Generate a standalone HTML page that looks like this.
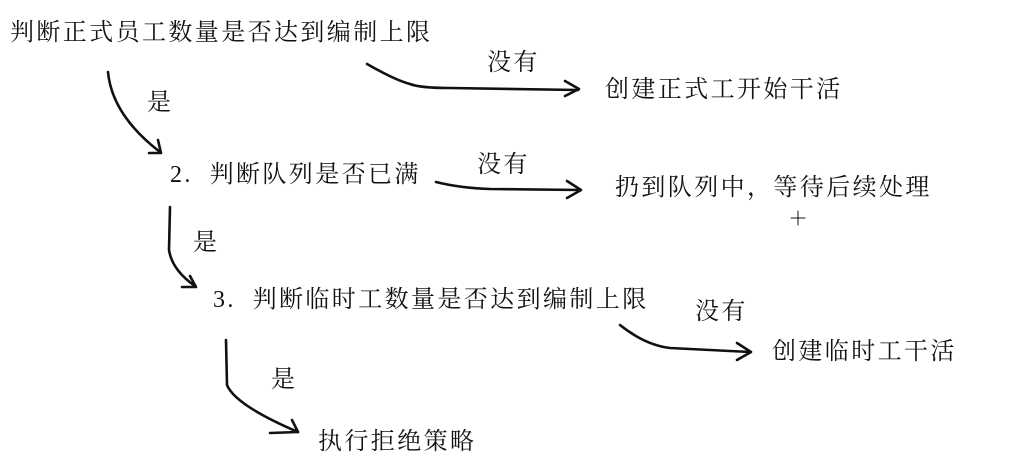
<!DOCTYPE html>
<html><head><meta charset="utf-8"><style>
html,body{margin:0;padding:0;background:#fff;}
body{width:1012px;height:473px;position:relative;overflow:hidden;}
.t{position:absolute;font-family:"Liberation Serif","Noto Serif CJK SC",serif;font-size:24px;line-height:28px;color:#111;white-space:nowrap;letter-spacing:2.4px;}
svg{position:absolute;left:0;top:0;}
</style></head><body>
<div class="t" style="left:10px;top:19px;">判断正式员工数量是否达到编制上限</div>
<div class="t" style="left:487px;top:49px;">没有</div>
<div class="t" style="left:605px;top:76px;">创建正式工开始干活</div>
<div class="t" style="left:147px;top:89px;">是</div>
<div class="t" style="left:170px;top:161px;">2.&nbsp;&nbsp;判断队列是否已满</div>
<div class="t" style="left:477px;top:151px;">没有</div>
<div class="t" style="left:615px;top:174px;">扔到队列中，等待后续处理</div>
<div class="t" style="left:193px;top:229px;">是</div>
<div class="t" style="left:213px;top:286px;">3.&nbsp;&nbsp;判断临时工数量是否达到编制上限</div>
<div class="t" style="left:695px;top:298px;">没有</div>
<div class="t" style="left:772px;top:338px;">创建临时工干活</div>
<div class="t" style="left:271px;top:366px;">是</div>
<div class="t" style="left:318px;top:428px;">执行拒绝策略</div>
<svg width="1012" height="473" fill="none" stroke="#111" stroke-width="2.6" stroke-linecap="round" stroke-linejoin="round">
<path d="M367 64 Q395 80 410 84 Q420 88 450 88 L578 90"/>
<path d="M565 81 L579 89 L565 96"/>
<path d="M108 72 Q112 115 160 152"/>
<path d="M149 153 L161 153 L158 140"/>
<path d="M436 182 Q460 188 490 189 L580 190"/>
<path d="M567 181 L581 190 L567 198"/>
<path d="M170 207 L169 250 Q172 270 195 286"/>
<path d="M182 287 L196 287 L190 276"/>
<path d="M620 325 Q645 345 670 348 L750 352"/>
<path d="M737 343 L751 352 L737 360"/>
<path d="M226 340 L227 385 Q235 405 298 432"/>
<path d="M270 433 L298 432 L292 420"/>
<path d="M798 211 L798 225 M791 218 L805 218" stroke-width="1"/>
</svg>
</body></html>
